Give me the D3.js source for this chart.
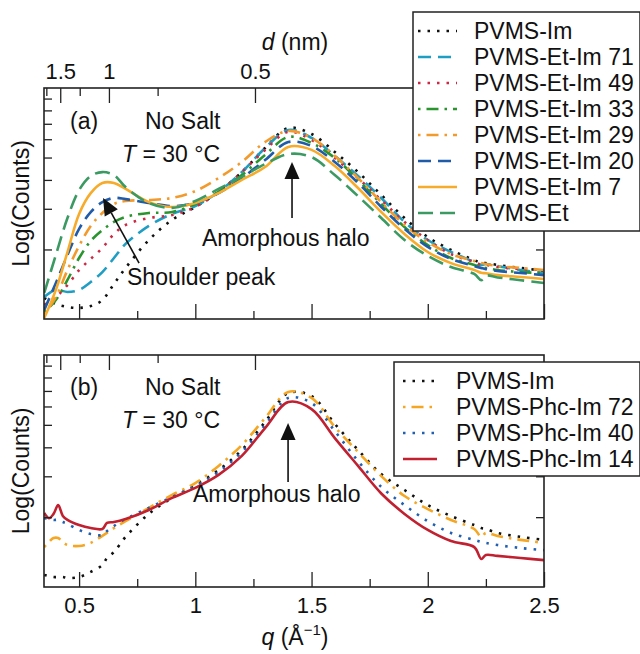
<!DOCTYPE html>
<html>
<head>
<meta charset="utf-8">
<script src="https://cdn.jsdelivr.net/npm/d3@7/dist/d3.min.js"></script>
<style>
body{margin:0;background:#fff;}
text{font-family:"Liberation Sans",Arial,Helvetica,sans-serif;fill:#111;}
</style>
</head>
<body>
<div id="chart"></div>
<script>
// q grid (1/Angstrom) for panel (a) and panel (b); y values are fractions of one log decade
var qA=[0.35,0.4,0.45,0.5,0.55,0.6,0.65,0.7,0.8,0.9,1.0,1.1,1.2,1.3,1.4,1.5,1.6,1.7,1.8,1.9,2.0,2.1,2.2,2.23,2.25,2.3,2.4,2.5];
var qB=[0.35,0.37,0.39,0.41,0.43,0.45,0.5,0.55,0.6,0.62,0.65,0.7,0.8,0.9,1.0,1.1,1.2,1.3,1.4,1.5,1.6,1.7,1.8,1.9,2.0,2.1,2.2,2.23,2.25,2.3,2.4,2.5];

var namesA=["PVMS-Im","PVMS-Et-Im 71","PVMS-Et-Im 49","PVMS-Et-Im 33","PVMS-Et-Im 29","PVMS-Et-Im 20","PVMS-Et-Im 7","PVMS-Et"];
var imA   =[.091,.065,.052,.048,.056,.082,.152,.221,.342,.429,.485,.550,.636,.740,.827,.801,.723,.636,.537,.437,.355,.299,.255,.242,.242,.234,.221,.208];
var etIm71=[.095,.126,.117,.126,.160,.203,.264,.325,.403,.455,.489,.550,.636,.740,.818,.784,.706,.619,.524,.420,.342,.290,.247,.234,.238,.229,.212,.199];
var etIm49=[.061,.095,.147,.212,.260,.307,.368,.407,.437,.450,.485,.550,.636,.732,.810,.775,.697,.610,.515,.420,.342,.281,.247,.234,.234,.225,.216,.212];
var etIm33=[.030,.082,.169,.264,.338,.385,.420,.442,.459,.463,.498,.550,.623,.710,.788,.762,.697,.602,.498,.398,.320,.264,.234,.225,.221,.212,.203,.199];
var etIm29=[.022,.095,.212,.316,.403,.459,.498,.511,.515,.524,.554,.610,.680,.766,.814,.784,.706,.610,.506,.407,.333,.281,.251,.242,.238,.229,.221,.212];
var etIm20=[.039,.156,.277,.390,.463,.506,.524,.519,.502,.489,.502,.545,.610,.688,.766,.749,.680,.589,.485,.390,.312,.260,.229,.221,.216,.208,.199,.190];
var etIm7 =[.004,.126,.290,.455,.545,.589,.589,.563,.506,.485,.502,.545,.602,.658,.745,.732,.662,.567,.463,.368,.290,.242,.212,.200,.198,.190,.182,.173];
var et    =[.113,.277,.437,.558,.619,.636,.623,.571,.502,.481,.511,.563,.615,.671,.714,.701,.623,.532,.437,.342,.273,.225,.195,.168,.188,.180,.168,.156];
var valuesA=[imA,etIm71,etIm49,etIm33,etIm29,etIm20,etIm7,et];

var namesB=["PVMS-Im","PVMS-Phc-Im 72","PVMS-Phc-Im 40","PVMS-Phc-Im 14"];
var imB    =[.052,.047,.043,.043,.043,.039,.043,.065,.095,.125,.151,.216,.315,.384,.440,.504,.591,.711,.836,.823,.703,.591,.487,.418,.353,.306,.267,.254,.250,.233,.216,.203];
var phcIm72=[.172,.194,.211,.211,.194,.181,.177,.190,.220,.233,.254,.284,.341,.397,.448,.522,.612,.728,.841,.815,.690,.582,.478,.392,.336,.289,.250,.216,.233,.220,.203,.190];
var phcIm40=[.297,.293,.289,.289,.280,.272,.246,.228,.224,.241,.263,.293,.341,.388,.435,.496,.582,.698,.815,.793,.672,.543,.431,.353,.284,.233,.203,.194,.190,.181,.168,.159];
var phcIm14=[.319,.297,.315,.353,.306,.289,.267,.254,.250,.276,.280,.293,.332,.384,.427,.483,.565,.685,.797,.767,.642,.522,.403,.315,.246,.198,.172,.121,.138,.134,.125,.116];
var valuesB=[imB,phcIm72,phcIm40,phcIm14];

var qMajor=[0.5,1,1.5,2,2.5];
var qMinor=[0.75,1.25,1.75,2.25];
var qTickLabels=["0.5","1","1.5","2","2.5"];
var dMajor=[1.5,1,0.5];
var dMinor=[1.75,1.25,0.75];
var dTickLabels=["1.5","1","0.5"];
var logTicks=[2,3,4,5,6,7,8,9];

// styles
var styleA={
  "PVMS-Im":{color:"#111111",dash:"2.5,7"},
  "PVMS-Et-Im 71":{color:"#1f9ec4",dash:"13,7"},
  "PVMS-Et-Im 49":{color:"#cc2a44",dash:"2.5,7"},
  "PVMS-Et-Im 33":{color:"#2a952e",dash:"2.5,6,12,6"},
  "PVMS-Et-Im 29":{color:"#f39a2c",dash:"2.5,6,12,6"},
  "PVMS-Et-Im 20":{color:"#1f5ba8",dash:"13,7"},
  "PVMS-Et-Im 7":{color:"#f7ab2a",dash:null},
  "PVMS-Et":{color:"#3b9a62",dash:"15,7"}
};
var styleB={
  "PVMS-Im":{color:"#111111",dash:"2.5,7"},
  "PVMS-Phc-Im 72":{color:"#f5a623",dash:"2.5,6,12,6"},
  "PVMS-Phc-Im 40":{color:"#2160b0",dash:"2.5,7"},
  "PVMS-Phc-Im 14":{color:"#c0202f",dash:null}
};

var width=640,height=654;
var left=44,right=544;
var svg=d3.select("#chart").append("svg")
  .attr("width",width)
  .attr("height",height);

var x=d3.scaleLinear().domain([0.349,2.5]).range([left,right]);
function dToQ(d){return 2*Math.PI/(d*10);}

function drawPanel(top,bottom,qs,names,values,styles,id,showTop,showBottom){
  var y=d3.scaleLinear().domain([0,1]).range([bottom,top]);
  var g=svg.append("g");

  g.append("clipPath").attr("id","clip"+id)
    .append("rect").attr("x",left).attr("y",top).attr("width",right-left).attr("height",bottom-top);

  var line=d3.line()
    .x(function(d){return x(d[0]);})
    .y(function(d){return y(d[1]);})
    .curve(d3.curveCatmullRom.alpha(0.5));

  var lines=g.append("g").attr("clip-path","url(#clip"+id+")");
  names.forEach(function(n,i){
    var pts=qs.map(function(q,j){return [q,values[i][j]];});
    lines.append("path")
      .attr("d",line(pts))
      .attr("fill","none")
      .attr("stroke",styles[n].color)
      .attr("stroke-width",2.6)
      .attr("stroke-dasharray",styles[n].dash);
  });

  // axes, ticks pointing inward
  var bMaj=g.append("g").attr("transform","translate(0,"+bottom+")")
    .call(d3.axisBottom(x).tickValues(qMajor).tickSize(-15).tickPadding(10)
      .tickFormat(function(d,i){return showBottom?qTickLabels[i]:"";}));
  var bMin=g.append("g").attr("transform","translate(0,"+bottom+")")
    .call(d3.axisBottom(x).tickValues(qMinor).tickSize(-8).tickFormat(""));
  var tMaj=g.append("g").attr("transform","translate(0,"+top+")")
    .call(d3.axisTop(x).tickValues(dMajor.map(dToQ)).tickSize(-15).tickPadding(9)
      .tickFormat(function(d,i){return showTop?dTickLabels[i]:"";}));
  var tMin=g.append("g").attr("transform","translate(0,"+top+")")
    .call(d3.axisTop(x).tickValues(dMinor.map(dToQ)).tickSize(-8).tickFormat(""));
  var lAx=g.append("g").attr("transform","translate("+left+",0)")
    .call(d3.axisLeft(y).tickValues(logTicks.map(Math.log10)).tickSize(-8).tickFormat(""));
  var rAx=g.append("g").attr("transform","translate("+right+",0)")
    .call(d3.axisRight(y).tickValues(logTicks.map(Math.log10)).tickSize(-8).tickFormat(""));

  [bMaj,bMin,tMaj,tMin,lAx,rAx].forEach(function(a){
    a.select(".domain").remove();
    a.attr("font-size",22).attr("font-family",null).attr("color","#222");
    a.selectAll("line").attr("stroke-width",1.3);
  });

  g.append("rect")
    .attr("x",left).attr("y",top)
    .attr("width",right-left).attr("height",bottom-top)
    .attr("fill","none").attr("stroke","#222").attr("stroke-width",1.6);

  g.append("text")
    .attr("transform","translate(29,"+((top+bottom)/2)+") rotate(-90)")
    .attr("text-anchor","middle")
    .attr("font-size",23)
    .text("Log(Counts)");

  return {g:g,y:y};
}

function arrow(g,x1,y1,x2,y2){
  var ang=Math.atan2(y2-y1,x2-x1);
  var len=17,hw=7.5;
  var bx=x2-len*Math.cos(ang),by=y2-len*Math.sin(ang);
  g.append("line")
    .attr("x1",x1).attr("y1",y1).attr("x2",bx).attr("y2",by)
    .attr("stroke","#111").attr("stroke-width",1.6);
  var px=-Math.sin(ang)*hw,py=Math.cos(ang)*hw;
  g.append("path")
    .attr("d","M"+x2+","+y2+"L"+(bx+px)+","+(by+py)+"L"+(bx-px)+","+(by-py)+"Z")
    .attr("fill","#111");
}

function labels(g,top,letter){
  g.append("text").attr("x",70).attr("y",top+41).attr("font-size",23).text(letter);
  g.append("text").attr("x",145).attr("y",top+41).attr("font-size",23).text("No Salt");
  var t=g.append("text").attr("x",122).attr("y",top+74).attr("font-size",23);
  t.append("tspan").attr("font-style","italic").text("T");
  t.append("tspan").text(" = 30 \u00B0C");
}

function legend(x0,y0,w,h,names,styles,rowY,step,s0,s1,tx){
  var lg=svg.append("g");
  lg.append("rect").attr("x",x0).attr("y",y0).attr("width",w).attr("height",h)
    .attr("fill","#fff").attr("stroke","#222").attr("stroke-width",1.5);
  names.forEach(function(n,i){
    var yy=rowY+i*step;
    lg.append("line").attr("x1",s0).attr("x2",s1).attr("y1",yy).attr("y2",yy)
      .attr("stroke",styles[n].color).attr("stroke-width",2.6)
      .attr("stroke-dasharray",styles[n].dash);
    lg.append("text").attr("x",tx).attr("y",yy).attr("dy","0.36em")
      .attr("font-size",23).text(n);
  });
}

// panel (a)
var pa=drawPanel(88,319,qA,namesA,valuesA,styleA,"a",true,false);
labels(pa.g,88,"(a)");
pa.g.append("text").attr("x",127).attr("y",285).attr("font-size",23).text("Shoulder peak");
arrow(pa.g,x(0.758),pa.y(0.242),x(0.603),pa.y(0.524));
pa.g.append("text").attr("x",202).attr("y",246).attr("font-size",23).text("Amorphous halo");
arrow(pa.g,x(1.416),pa.y(0.437),x(1.416),pa.y(0.680));

// top axis title
var dt=svg.append("text").attr("x",295).attr("y",50).attr("text-anchor","middle").attr("font-size",23);
dt.append("tspan").attr("font-style","italic").text("d");
dt.append("tspan").text(" (nm)");

// panel (b)
var pb=drawPanel(355,587,qB,namesB,valuesB,styleB,"b",false,true);
labels(pb.g,354,"(b)");
pb.g.append("text").attr("x",193).attr("y",502).attr("font-size",23).text("Amorphous halo");
arrow(pb.g,x(1.399),pb.y(0.453),x(1.399),pb.y(0.707));

// bottom axis title
var qt=svg.append("text").attr("x",295).attr("y",645).attr("text-anchor","middle").attr("font-size",23);
qt.append("tspan").attr("font-style","italic").text("q");
qt.append("tspan").text(" (\u00C5");
qt.append("tspan").attr("font-size",15).attr("dy",-10).text("\u22121");
qt.append("tspan").attr("dy",10).text(")");

legend(413,12,227,219,namesA,styleA,31,26,418,457,474);
legend(394,362,246,114,namesB,styleB,381,26,403,437,456);
</script>
</body>
</html>
